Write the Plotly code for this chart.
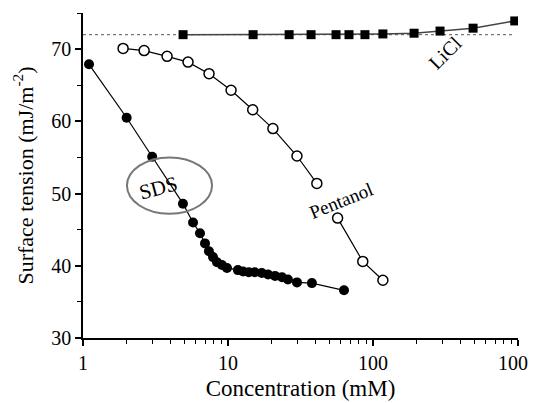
import math
import plotly.graph_objects as go

# SDS (filled circles)
sds_x = [1.1, 2.0, 3.0, 4.89, 5.74, 6.41, 6.94, 7.39, 7.88, 8.40, 9.09, 9.84,
         11.7, 12.7, 13.9, 15.3, 17.1, 18.9, 21.1, 23.6, 25.9, 29.9, 37.9, 63.1]
sds_y = [67.9, 60.5, 55.1, 48.6, 46.0, 44.5, 43.1, 42.0, 41.2, 40.5, 40.1, 39.7,
         39.4, 39.2, 39.1, 39.1, 39.0, 38.8, 38.6, 38.4, 38.1, 37.7, 37.6, 36.6]

# Pentanol (open circles)
pent_x = [1.89, 2.64, 3.8, 5.3, 7.4, 10.5, 14.8, 20.4, 29.9, 41, 57, 85, 117]
pent_y = [70.1, 69.8, 69.0, 68.2, 66.6, 64.3, 61.6, 59.0, 55.2, 51.4, 46.6, 40.6, 38.0]

# LiCl (filled squares)
licl_x = [4.9, 14.9, 26.4, 37.4, 55.6, 68.3, 88, 117, 192, 290, 490, 950]
licl_y = [72.0, 72.0, 72.0, 72.0, 72.0, 72.0, 72.0, 72.1, 72.2, 72.5, 72.9, 73.9]

# pure-water reference level
ref_x = [1, 950]
ref_y = [72, 72]

x_ticks = [1, 10, 100, 1000]
y_ticks = [30, 40, 50, 60, 70]

FONT = "Liberation Serif"

fig = go.Figure()
fig.add_trace(go.Scatter(x=ref_x, y=ref_y, mode="lines",
                         line=dict(color="#777777", width=1.3, dash="dot"),
                         hoverinfo="skip"))
fig.add_trace(go.Scatter(x=licl_x, y=licl_y, mode="lines+markers",
                         line=dict(color="#444444", width=1.5),
                         marker=dict(symbol="square", size=9, color="black")))
# pentanol line broken where the label sits
for sl in (slice(0, 10), slice(10, None)):
    fig.add_trace(go.Scatter(x=pent_x[sl], y=pent_y[sl], mode="lines+markers",
                             line=dict(color="black", width=1.2),
                             marker=dict(symbol="circle", size=10, color="white",
                                         line=dict(color="black", width=1.5))))
fig.add_trace(go.Scatter(x=sds_x, y=sds_y, mode="lines+markers",
                         line=dict(color="black", width=1.2),
                         marker=dict(symbol="circle", size=10, color="black")))

# ellipse around SDS label (shapes take real data values on log axes)
fig.add_shape(type="circle", xref="x", yref="y",
              x0=2.01, x1=7.76, y0=47.2, y1=55.0,
              line=dict(color="#777777", width=2))

fig.add_annotation(x=math.log10(3.3), y=50.8, text="SDS", showarrow=False,
                   textangle=-15, font=dict(family=FONT, size=21, color="black"))
fig.add_annotation(x=math.log10(61), y=49.0, text="Pentanol", showarrow=False,
                   textangle=-22, font=dict(family=FONT, size=19, color="black"))
fig.add_annotation(x=math.log10(314), y=69.4, text="LiCl", showarrow=False,
                   textangle=-45, font=dict(family=FONT, size=20, color="black"))

# page body adds an 8px margin, so the figure is sized to fit the window
fig.update_layout(
    width=528, height=395,
    margin=dict(l=75, r=18, t=5, b=65),
    paper_bgcolor="white", plot_bgcolor="white",
    showlegend=False,
    font=dict(family=FONT, size=20, color="black"),
)
fig.update_xaxes(type="log", range=[0, 3], tickvals=x_ticks,
                 ticktext=[str(v) for v in x_ticks],
                 showgrid=False, zeroline=False, showline=True,
                 linecolor="black", linewidth=1.5, ticks="outside",
                 ticklen=6, tickwidth=1.5, tickcolor="black",
                 minor=dict(ticks="outside", ticklen=4, tickwidth=1.2,
                            tickcolor="black", dtick="D1", showgrid=False),
                 title=dict(text="Concentration (mM)", font=dict(size=23), standoff=7),
                 tickfont=dict(size=20), automargin=False, ticklabeloverflow="allow")
fig.update_yaxes(range=[30, 75], tickvals=y_ticks,
                 showgrid=False, zeroline=False, showline=True,
                 linecolor="black", linewidth=1.5, ticks="outside",
                 ticklen=6, tickwidth=1.5, tickcolor="black",
                 minor=dict(ticks="outside", ticklen=4, tickwidth=1.2,
                            tickcolor="black", tickvals=[35, 45, 55, 65, 75], showgrid=False),
                 title=dict(text="Surface tension (mJ/m<sup>-2</sup>)", font=dict(size=22), standoff=12),
                 tickfont=dict(size=20), automargin=False)

fig.write_html("out.html")
